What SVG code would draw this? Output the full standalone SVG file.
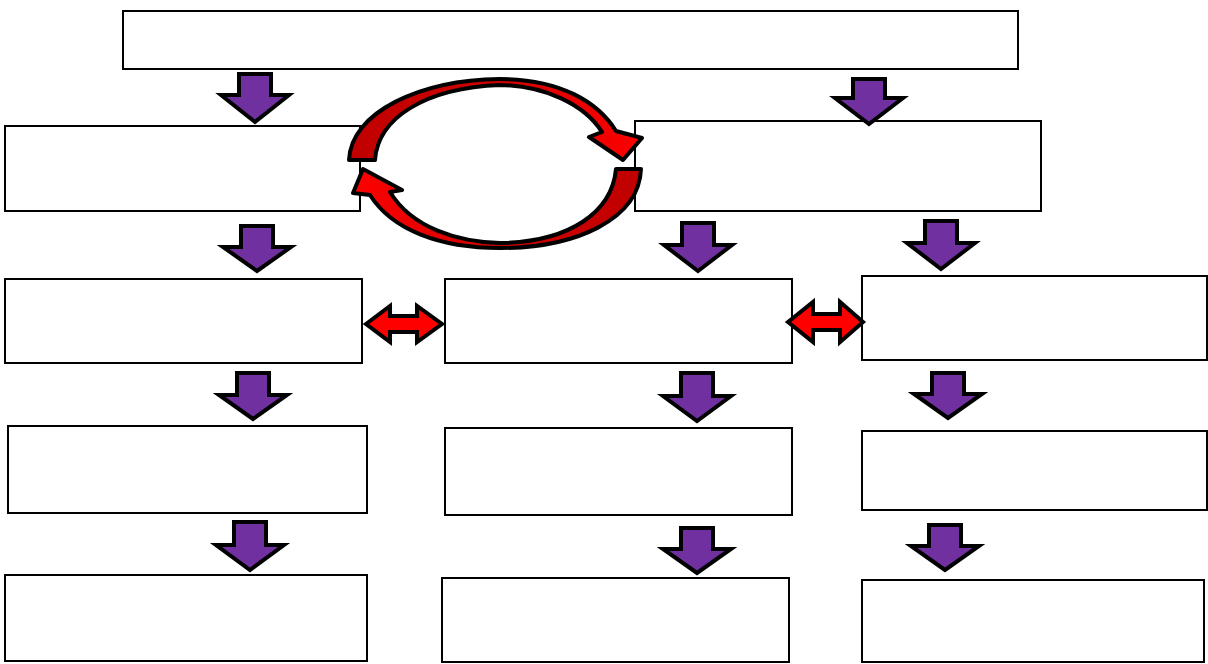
<svg xmlns="http://www.w3.org/2000/svg" width="1208" height="664" viewBox="0 0 1208 664">
<style>
.box{fill:#fff;stroke:#000;stroke-width:2}
.down{fill:#7030A0;stroke:#000;stroke-width:4;stroke-linejoin:miter}
.dbl{fill:#FF0000;stroke:#000;stroke-width:4}
.cyc{stroke:#000;stroke-width:4;stroke-linejoin:round}
</style>
<defs>
<linearGradient id="gTop" x1="0" y1="0" x2="1" y2="0">
<stop offset="0" stop-color="#C00000"/><stop offset="0.5" stop-color="#D00000"/><stop offset="1" stop-color="#FF0000"/>
</linearGradient>
<linearGradient id="gBot" x1="1" y1="0" x2="0" y2="0">
<stop offset="0" stop-color="#C00000"/><stop offset="0.5" stop-color="#D00000"/><stop offset="1" stop-color="#FF0000"/>
</linearGradient>
</defs>
<g id="n-top"><rect class="box" x="123" y="11" width="895" height="58"/></g>
<g id="n-r2-left"><rect class="box" x="5" y="126" width="355" height="85"/></g>
<g id="n-r2-right"><rect class="box" x="635" y="121" width="406" height="90"/></g>
<g id="n-r3-left"><rect class="box" x="5" y="279" width="357" height="84"/></g>
<g id="n-r3-mid"><rect class="box" x="445" y="279" width="347" height="84"/></g>
<g id="n-r3-right"><rect class="box" x="862" y="276" width="345" height="84"/></g>
<g id="n-r4-left"><rect class="box" x="8" y="426" width="359" height="87"/></g>
<g id="n-r4-mid"><rect class="box" x="445" y="428" width="347" height="87"/></g>
<g id="n-r4-right"><rect class="box" x="862" y="431" width="345" height="79"/></g>
<g id="n-r5-left"><rect class="box" x="5" y="575" width="362" height="86"/></g>
<g id="n-r5-mid"><rect class="box" x="442" y="578" width="347" height="84"/></g>
<g id="n-r5-right"><rect class="box" x="862" y="580" width="342" height="82"/></g>
<g id="connectors">
<path class="down" d="M239,74 H271 V95 H289 L255,122 L221,95 H239 Z"/>
<path class="down" d="M853,79 H885 V98 H903 L869,124 L835,98 H853 Z"/>
<path class="down" d="M241,226 H273 V247 H291 L257,271 L223,247 H241 Z"/>
<path class="down" d="M682,223 H714 V245 H732 L698,271 L664,245 H682 Z"/>
<path class="down" d="M925,221 H957 V243 H975 L941,269 L907,243 H925 Z"/>
<path class="down" d="M237,373 H269 V395 H287 L253,419 L219,395 H237 Z"/>
<path class="down" d="M681,373 H713 V396 H731 L697,421 L663,396 H681 Z"/>
<path class="down" d="M932,373 H964 V394 H982 L948,418 L914,394 H932 Z"/>
<path class="down" d="M234,522 H266 V545 H284 L250,570 L216,545 H234 Z"/>
<path class="down" d="M681,528 H713 V549 H731 L697,573 L663,549 H681 Z"/>
<path class="down" d="M929,525 H961 V546 H979 L945,570 L911,546 H929 Z"/>
<path class="dbl" d="M366,324 L390,306 L390,316 L417,316 L417,306 L442,324 L417,342 L417,332 L390,332 L390,342 Z"/>
<path class="dbl" d="M788,322 L813,302 L813,314 L840,314 L840,302 L863,322 L840,342 L840,330 L813,330 L813,342 Z"/>
<path class="cyc" fill="url(#gTop)" d="M349,160 C351,112 420,80 500,79 C560,79 598,102 616,131 L642,138 L623,160 L589,137 L602,132 C584,104 545,86 500,85 C425,88 378,118 375,160 Z"/>
<path class="cyc" fill="url(#gBot)" d="M641,169 C639,220 575,248 500,248 C440,248 392,230 370,195 L353,193 L363,169 L402,190 L390,192 C412,228 458,242 500,243 C570,242 612,212 616,169 Z"/>
</g>
</svg>
